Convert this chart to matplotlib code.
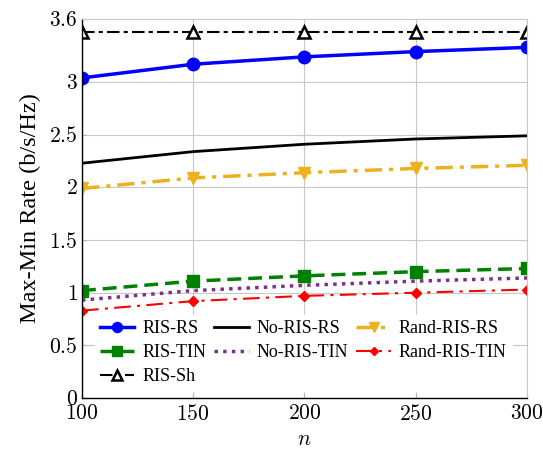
import numpy as np
import matplotlib
matplotlib.use('Agg')
import matplotlib.pyplot as plt
from matplotlib.ticker import FixedLocator, FixedFormatter

plt.rcParams['font.family'] = ['Liberation Serif', 'DejaVu Serif']
plt.rcParams['mathtext.fontset'] = 'cm'

# ==========================================
# data
# ==========================================
n = [100, 150, 200, 250, 300]
ris_rs = [3.04, 3.17, 3.24, 3.29, 3.33]
no_ris_rs = [2.23, 2.34, 2.41, 2.46, 2.49]
rand_ris_rs = [1.99, 2.09, 2.14, 2.18, 2.21]
ris_tin = [1.02, 1.11, 1.16, 1.20, 1.23]
no_ris_tin = [0.93, 1.02, 1.07, 1.11, 1.14]
rand_ris_tin = [0.83, 0.92, 0.97, 1.00, 1.03]
ris_sh = [3.48, 3.48, 3.48, 3.48, 3.48]

yticks = [0, 0.5, 1, 1.5, 2, 2.5, 3, 3.6]
ytick_labels = ['0', '0.5', '1', '1.5', '2', '2.5', '3', '3.6']
xticks = [100, 150, 200, 250, 300]

# ==========================================
# plot
# ==========================================
fig = plt.figure(figsize=(5.43, 4.51), dpi=100)
ax = fig.add_axes([0.151, 0.1175, 0.8195, 0.8405])

h_rs, = ax.plot(n, ris_rs, color='blue', lw=2.5, marker='o', ms=9, label='RIS-RS')
h_nrs, = ax.plot(n, no_ris_rs, color='black', lw=2.0, label='No-RIS-RS')
h_rrs, = ax.plot(n, rand_ris_rs, color='#EDB120', lw=2.5, ls=(0, (5, 2, 1.2, 2)),
                 marker='v', ms=9, label='Rand-RIS-RS')
h_tin, = ax.plot(n, ris_tin, color='#008000', lw=2.5, ls=(0, (4, 2)),
                 marker='s', ms=9, label='RIS-TIN')
h_ntin, = ax.plot(n, no_ris_tin, color='#7E2F8E', lw=2.5, ls=(0, (1, 1.5)), label='No-RIS-TIN')
h_rtin, = ax.plot(n, rand_ris_tin, color='red', lw=1.5, ls=(0, (8, 3, 1.5, 3)),
                  marker='D', ms=5, label='Rand-RIS-TIN')
h_sh, = ax.plot(n, ris_sh, color='black', lw=1.5, ls=(0, (6, 2, 2, 2)),
                marker='^', ms=9, mfc='white', mew=1.8, label='RIS-Sh')

ax.set_xlim(100, 300)
ax.set_ylim(0, 3.6)
ax.xaxis.set_major_locator(FixedLocator(xticks))
ax.xaxis.set_major_formatter(FixedFormatter(['$%d$' % v for v in xticks]))
ax.yaxis.set_major_locator(FixedLocator(yticks))
ax.yaxis.set_major_formatter(FixedFormatter(['$%s$' % s for s in ytick_labels]))
ax.tick_params(direction='in', length=3, color='#b0b0b0', labelsize=15.5)
ax.tick_params(axis='x', pad=5)
ax.tick_params(axis='y', pad=3)
ax.grid(True, color='#c8c8c8', lw=0.8)
ax.set_axisbelow(True)

for side in ['top', 'right']:
    ax.spines[side].set_color('#c8c8c8')
for side in ['left', 'bottom']:
    ax.spines[side].set_color('black')
    ax.spines[side].set_linewidth(1.0)

ax.set_xlabel('$n$', fontsize=15.5, labelpad=4)
ax.set_ylabel('Max-Min Rate (b/s/Hz)', fontsize=17.5, labelpad=6)

handles = [h_rs, h_tin, h_sh, h_nrs, h_ntin, h_rrs, h_rtin]
leg = ax.legend(handles=handles, loc='lower left', bbox_to_anchor=(0.008, -0.005), ncol=3,
                fontsize=13, frameon=True, framealpha=1.0, edgecolor='white',
                handlelength=1.9, handletextpad=0.45, columnspacing=0.45,
                labelspacing=0.4, borderpad=0.3, fancybox=False, markerscale=0.8)

fig.savefig('out.png', dpi=100)
